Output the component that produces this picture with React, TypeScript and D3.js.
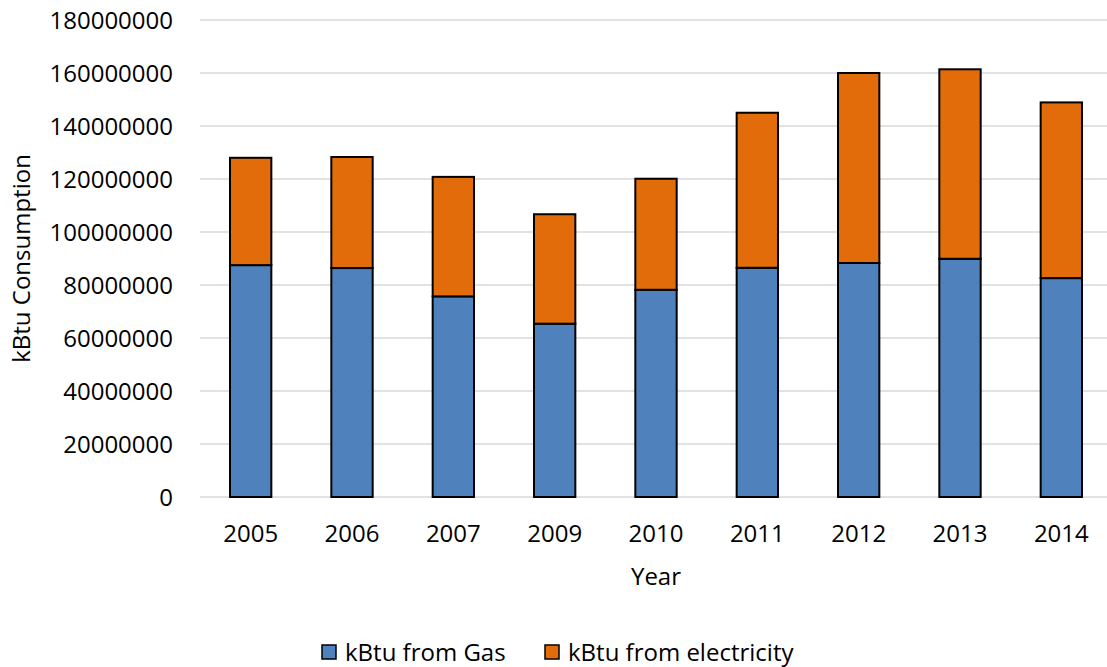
import React from "react";
import * as d3 from "d3";

const years = ["2005", "2006", "2007", "2009", "2010", "2011", "2012", "2013", "2014"];
const gas = [87.5e6, 86.4e6, 75.7e6, 65.4e6, 78.2e6, 86.5e6, 88.3e6, 89.9e6, 82.6e6];
const electricity = [40.5e6, 41.9e6, 45.1e6, 41.3e6, 41.9e6, 58.5e6, 71.7e6, 71.5e6, 66.3e6];
const yTicks = [0, 20e6, 40e6, 60e6, 80e6, 100e6, 120e6, 140e6, 160e6, 180e6];
const seriesNames = ["kBtu from Gas", "kBtu from electricity"];
const colors = ["#4f81bd", "#e36c0a"];

const W = 1107;
const H = 667;
const FONT = "'Open Sans', 'Liberation Sans', sans-serif";
const FS = 24;

export default function App() {
  const x = d3.scaleBand<string>().domain(years).range([200, 1112]).paddingInner(0.592).paddingOuter(0.296);
  const y = d3.scaleLinear().domain([0, 180e6]).range([497, 20]);

  const rows = years.map((yr, i) => ({ year: yr, gas: gas[i], electricity: electricity[i] }));
  const stack = d3.stack<any>().keys(["gas", "electricity"]);
  const layers = stack(rows);

  return (
    <svg width={W} height={H} style={{ position: "absolute", left: 0, top: 0, background: "#fff" }}>
      <rect x={0} y={0} width={W} height={H} fill="#fff" />
      {yTicks.map((t) => (
        <g key={t}>
          <line x1={200} x2={1112} y1={y(t)} y2={y(t)} stroke="#d9d9d9" strokeWidth={1.5} />
          <text x={173} y={y(t)} dy="0.36em" textAnchor="end" fontFamily={FONT} fontSize={FS} fill="#000">
            {t}
          </text>
        </g>
      ))}
      {layers.map((layer, li) => (
        <g key={li}>
          {layer.map((d, i) => (
            <rect
              key={i}
              x={x(years[i])}
              y={y(d[1])}
              width={x.bandwidth()}
              height={y(d[0]) - y(d[1])}
              fill={colors[li]}
              stroke="#000"
              strokeWidth={2}
            />
          ))}
        </g>
      ))}
      {years.map((yr) => (
        <text key={yr} x={(x(yr) as number) + x.bandwidth() / 2} y={542} textAnchor="middle" fontFamily={FONT} fontSize={FS} fill="#000">
          {yr}
        </text>
      ))}
      <text x={656} y={585} textAnchor="middle" fontFamily={FONT} fontSize={FS} fill="#000">
        Year
      </text>
      <text
        transform={`translate(30, ${(y(0) + y(180e6)) / 2}) rotate(-90)`}
        textAnchor="middle"
        fontFamily={FONT}
        fontSize={FS}
        fill="#000"
      >
        kBtu Consumption
      </text>
      {seriesNames.map((name, i) => {
        const lx = i === 0 ? 322 : 545;
        return (
          <g key={name}>
            <rect x={lx} y={645} width={14} height={14} fill={colors[i]} stroke="#000" strokeWidth={1.5} />
            <text x={lx + 23} y={661} fontFamily={FONT} fontSize={FS} fill="#000">
              {name}
            </text>
          </g>
        );
      })}
    </svg>
  );
}
